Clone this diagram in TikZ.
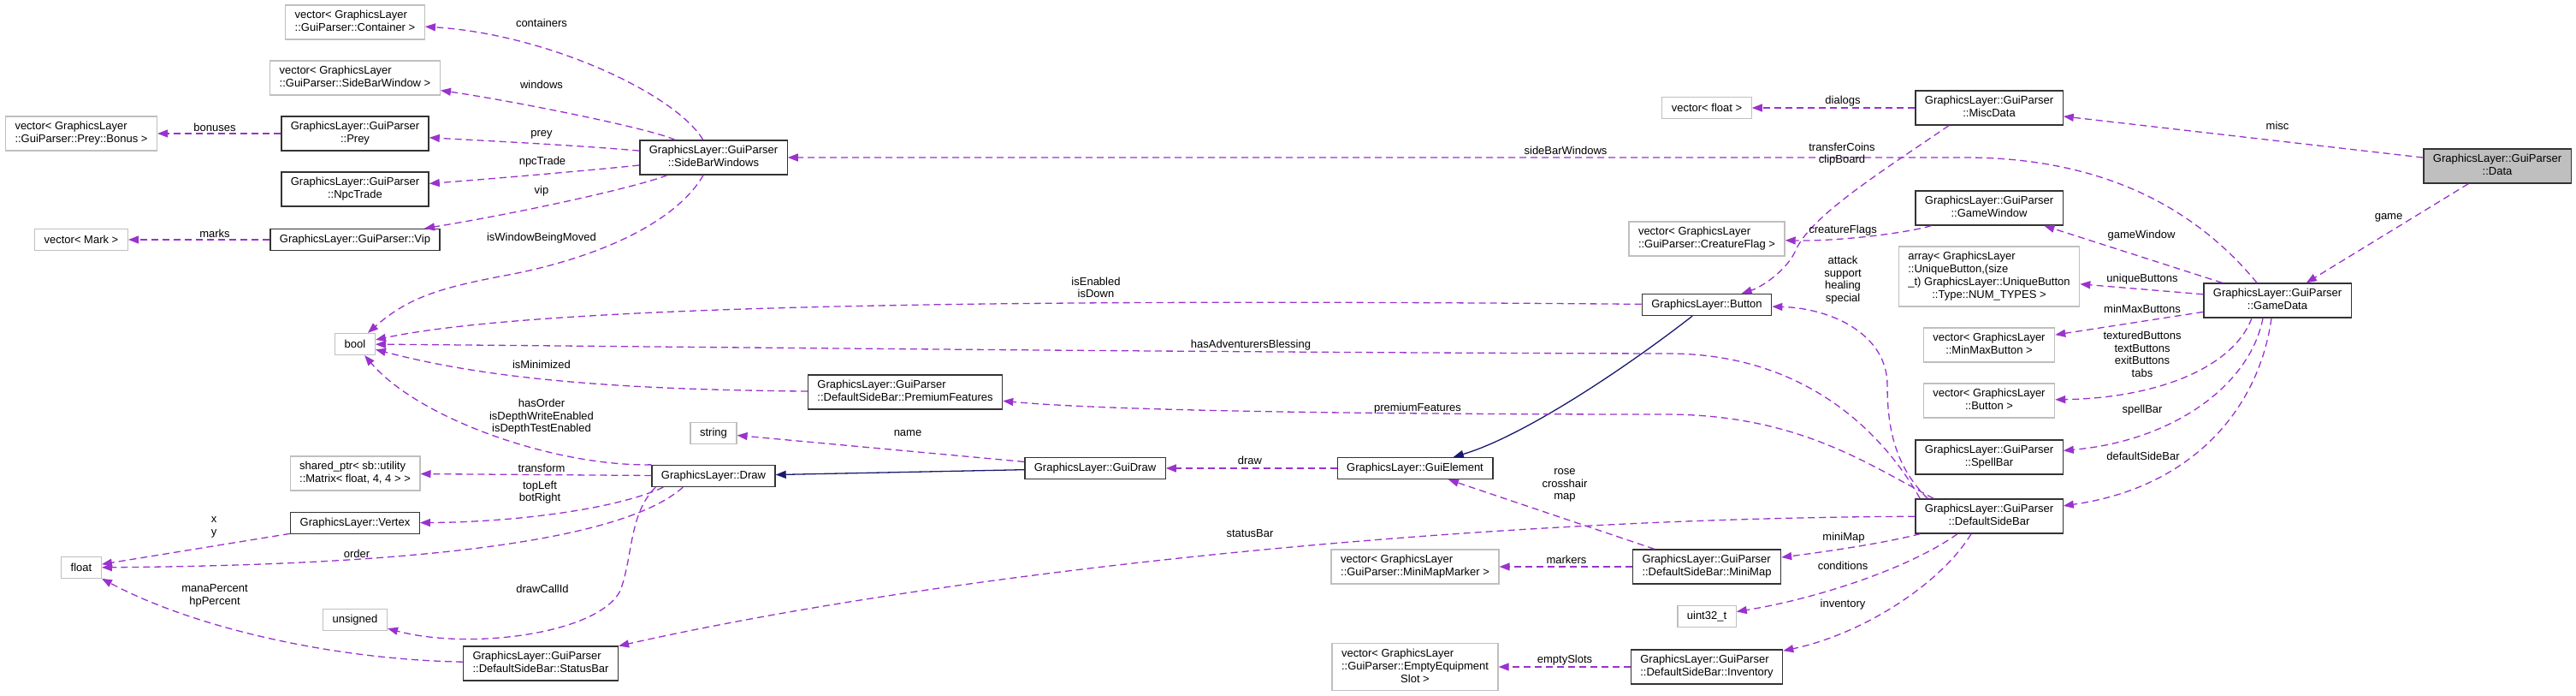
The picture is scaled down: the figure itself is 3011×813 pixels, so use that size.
\documentclass[tikz,border=0pt]{standalone}
\usepackage{fontspec}
\setmainfont{Liberation Sans}
\usetikzlibrary{arrows.meta}
\definecolor{edgePurple}{RGB}{154,50,205}
\definecolor{inhBlue}{RGB}{25,25,112}
\definecolor{extGray}{RGB}{191,191,191}
\colorlet{clsBorder}{black!80}
% first lines flush left, last line centred
\newcommand{\dxlab}[2]{\begin{tabular}{@{}l@{}}#1\\\multicolumn{1}{@{}c@{}}{#2}\end{tabular}}

\begin{document}
\begin{tikzpicture}[x=1pt, y=-1pt,
		every node/.style={font=\fontsize{13}{15}\selectfont},
		cls/.style={draw=clsBorder, line width=1.3pt, fill=white, inner xsep=11pt, inner ysep=5pt, minimum height=25pt},
		ext/.style={cls, draw=extGray},
		cur/.style={cls, fill=extGray},
		lbl/.style={align=center, font=\fontsize{13}{14.5}\selectfont, inner sep=0pt},
		dep/.style={draw=edgePurple, line width=1.3pt, dash pattern=on 8pt off 5pt, -{Triangle[length=12pt,width=9pt]}},
		inh/.style={draw=inhBlue, line width=1.3pt, -{Triangle[length=12pt,width=9pt]}}]
		\useasboundingbox (0,0) rectangle (3011,813);
		%%%%%%%%%%%%%
		\node[ext] (cont) at (415,26) {\dxlab{vector< GraphicsLayer}{::GuiParser::Container >}};
		\node[ext] (sbw) at (415,91) {\dxlab{vector< GraphicsLayer}{::GuiParser::SideBarWindow >}};
		\node[ext] (bonus) at (95,156) {\dxlab{vector< GraphicsLayer}{::GuiParser::Prey::Bonus >}};
		\node[cls] (prey) at (415,156) {\dxlab{GraphicsLayer::GuiParser}{::Prey}};
		\node[cls] (npc) at (415,221) {\dxlab{GraphicsLayer::GuiParser}{::NpcTrade}};
		\node[cls] (vip) at (415,280) {GraphicsLayer::GuiParser::Vip};
		\node[ext] (mark) at (95,280) {vector< Mark >};
		\node[cls] (windows) at (834,184) {\dxlab{GraphicsLayer::GuiParser}{::SideBarWindows}};
		\node[ext] (bool) at (415,402) {bool};
		\node[cls] (premium) at (1058,458) {\dxlab{GraphicsLayer::GuiParser}{::DefaultSideBar::PremiumFeatures}};
		\node[ext] (str) at (834,506) {string};
		\node[ext] (shptr) at (415,553) {\dxlab{shared\_ptr< sb::utility}{::Matrix< float, 4, 4 > >}};
		\node[cls] (draw) at (834,556) {GraphicsLayer::Draw};
		\node[cls] (vertex) at (415,611) {GraphicsLayer::Vertex};
		\node[ext] (flt) at (95,663) {float};
		\node[ext] (unsig) at (415,724) {unsigned};
		\node[cls] (status) at (632,775) {\dxlab{GraphicsLayer::GuiParser}{::DefaultSideBar::StatusBar}};
		\node[cls] (guidraw) at (1280,547) {GraphicsLayer::GuiDraw};
		\node[cls] (guielem) at (1654,547) {GraphicsLayer::GuiElement};
		\node[ext] (marker) at (1654,662) {\dxlab{vector< GraphicsLayer}{::GuiParser::MiniMapMarker >}};
		\node[ext] (slot) at (1654,779) {\dxlab{vector< GraphicsLayer\\::GuiParser::EmptyEquipment}{Slot >}};
		\node[ext] (vfloat) at (1995,126) {vector< float >};
		\node[ext] (flag) at (1995,279) {\dxlab{vector< GraphicsLayer}{::GuiParser::CreatureFlag >}};
		\node[cls] (button) at (1995,356) {GraphicsLayer::Button};
		\node[cls] (minimap) at (1995,662) {\dxlab{GraphicsLayer::GuiParser}{::DefaultSideBar::MiniMap}};
		\node[ext] (uint) at (1995,720) {uint32\_t};
		\node[cls] (inv) at (1995,779) {\dxlab{GraphicsLayer::GuiParser}{::DefaultSideBar::Inventory}};
		\node[cls] (misc) at (2325,126) {\dxlab{GraphicsLayer::GuiParser}{::MiscData}};
		\node[cls] (gamewin) at (2325,243) {\dxlab{GraphicsLayer::GuiParser}{::GameWindow}};
		\node[ext] (uniq) at (2325,323) {\dxlab{array< GraphicsLayer\\::UniqueButton,(size\\\_t) GraphicsLayer::UniqueButton}{::Type::NUM\_TYPES >}};
		\node[ext] (minmax) at (2325,403) {\dxlab{vector< GraphicsLayer}{::MinMaxButton >}};
		\node[ext] (vbutton) at (2325,468) {\dxlab{vector< GraphicsLayer}{::Button >}};
		\node[cls] (spell) at (2325,534) {\dxlab{GraphicsLayer::GuiParser}{::SpellBar}};
		\node[cls] (side) at (2325,603) {\dxlab{GraphicsLayer::GuiParser}{::DefaultSideBar}};
		\node[cls] (gamedata) at (2662,351) {\dxlab{GraphicsLayer::GuiParser}{::GameData}};
		\node[cur] (data) at (2919,194) {\dxlab{GraphicsLayer::GuiParser}{::Data}};
		%%%%%%%%%%%%%
		\draw [dep] (windows) .. controls (790,110) and (640,40) .. (cont);
		\draw [dep] (windows) .. controls (760,150) and (600,118) .. (sbw);
		\draw [dep] (windows) .. controls (680,170) and (560,164) .. (prey);
		\draw [dep] (windows) .. controls (680,200) and (560,210) .. (npc);
		\draw [dep] (windows) .. controls (740,220) and (600,250) .. (vip);
		\draw [dep] (prey) -- (bonus); \draw [dep] (vip) -- (mark);
		\draw [dep] (windows) .. controls (790,260) and (700,300) .. (600,320) .. controls (520,335) and (480,345) .. (bool);
		\draw [dep] (button) .. controls (1300,350) and (650,352) .. (bool);
		\draw [dep] ([xshift=6pt]side.north west) .. controls (2215,530) and (2130,413) .. (1950,413) .. controls (1400,412) and (700,404) .. (bool);
		\draw [dep] (premium) .. controls (700,455) and (560,440) .. (bool);
		\draw [dep] (draw.north west) .. controls (650,545) and (490,490) .. (bool);
		%%%%%%%%%%%%%
		\draw [dep] (draw) -- (shptr);
		\draw [dep] ([xshift=14pt]draw.south west) .. controls (720,595) and (600,610) .. (vertex);
		\draw [dep] ([xshift=37pt]draw.south west) .. controls (730,630) and (500,660) .. (flt);
		\draw [dep] ([xshift=5pt]draw.south west) .. controls (735,600) and (740,650) .. (725,690) .. controls (700,740) and (550,760) .. (unsig);
		\draw [dep] (vertex) -- (flt);
		\draw [dep] (status) .. controls (380,770) and (220,730) .. (flt);
		\draw [dep] (side) .. controls (1700,605) and (1100,670) .. (status);
		\draw [inh] (guidraw) -- (draw);
		\draw [dep] (guidraw) -- (str); \draw [dep] (guielem) -- (guidraw);
		\draw [inh] (button) .. controls (1900,430) and (1780,510) .. (guielem);
		\draw [dep] (minimap) -- (guielem);
		\draw [dep] (minimap) -- (marker); \draw [dep] (inv) -- (slot);
		%%%%%%%%%%%%%
		\draw [dep] (side) .. controls (2200,635) and (2130,645) .. (minimap);
		\draw [dep] ([xshift=-37pt]side.south) .. controls (2230,665) and (2120,700) .. (uint);
		\draw [dep] ([xshift=-21pt]side.south) .. controls (2270,680) and (2180,740) .. (inv);
		\draw [dep] ([xshift=15pt]side.north west) .. controls (2215,545) and (2206,500) .. (2206,450) .. controls (2206,390) and (2140,360) .. (button);
		\draw [dep] ([xshift=22pt]side.north west) .. controls (2180,540) and (2100,485) .. (1950,484) .. controls (1600,484) and (1300,480) .. (premium);
		\draw [dep] ([xshift=-24pt]gamedata.north) .. controls (2580,260) and (2480,185) .. (2300,184) -- (windows);
		\draw [dep] ([xshift=-47pt]misc.south) .. controls (2200,200) and (2120,250) .. (2100,290) .. controls (2090,315) and (2060,335) .. (button);
		\draw [dep] (misc) -- (vfloat);
		\draw [dep] (data) -- (misc); \draw [dep] (data) -- (gamedata);
		\draw [dep] (gamedata) -- (gamewin);
		\draw [dep] (gamewin) .. controls (2230,272) and (2150,282) .. (flag);
		\draw [dep] (gamedata) -- (uniq); \draw [dep] (gamedata) -- (minmax);
		\draw [dep] ([xshift=-30pt]gamedata.south) .. controls (2610,430) and (2520,465) .. (vbutton);
		\draw [dep] ([xshift=-17pt]gamedata.south) .. controls (2630,450) and (2540,515) .. (spell);
		\draw [dep] ([xshift=-7pt]gamedata.south) .. controls (2640,480) and (2560,570) .. (side);
		%%%%%%%%%%%%%
		\node[lbl] (lCont) at (633,27) {containers};
		\node[lbl] (lWin) at (633,99) {windows};
		\node[lbl] (lBonus) at (251,149) {bonuses};
		\node[lbl] (lPrey) at (633,157) {prey};
		\node[lbl] (lNpc) at (634,189) {npcTrade};
		\node[lbl] (lVip) at (633,223) {vip};
		\node[lbl] (lMarks) at (251,273) {marks};
		\node[lbl] (lMoved) at (633,278) {isWindowBeingMoved};
		\node[lbl] (lMin) at (633,426) {isMinimized};
		\node[lbl] (lOrderFlags) at (633,487) {hasOrder\\isDepthWriteEnabled\\isDepthTestEnabled};
		\node[lbl] (lTransform) at (633,547) {transform};
		\node[lbl] (lCorners) at (631,575) {topLeft\\botRight};
		\node[lbl] (lXY) at (250,616) {x\\y};
		\node[lbl] (lOrder) at (417,647) {order};
		\node[lbl] (lPercent) at (251,696) {manaPercent\\hpPercent};
		\node[lbl] (lCallId) at (634,688) {drawCallId};
		\node[lbl] (lName) at (1061,506) {name};
		\node[lbl] (lDraw) at (1461,538) {draw};
		\node[lbl] (lEnabled) at (1281,336) {isEnabled\\isDown};
		\node[lbl] (lBlessing) at (1462,403) {hasAdventurersBlessing};
		\node[lbl] (lPremium) at (1657,477) {premiumFeatures};
		\node[lbl] (lStatus) at (1461,623) {statusBar};
		\node[lbl] (lRose) at (1829,567) {rose\\crosshair\\map};
		\node[lbl] (lMarkers) at (1831,654) {markers};
		\node[lbl] (lSlots) at (1829,771) {emptySlots};
		\node[lbl] (lMiniMap) at (2155,628) {miniMap};
		\node[lbl] (lCond) at (2154,661) {conditions};
		\node[lbl] (lInv) at (2154,706) {inventory};
		\node[lbl] (lSpells) at (2154,327) {attack\\support\\healing\\special};
		\node[lbl] (lSideBarWin) at (1830,176) {sideBarWindows};
		\node[lbl] (lCoins) at (2153,180) {transferCoins\\clipBoard};
		\node[lbl] (lFlags) at (2154,269) {creatureFlags};
		\node[lbl] (lDialogs) at (2154,118) {dialogs};
		\node[lbl] (lMisc) at (2662,147) {misc};
		\node[lbl] (lGame) at (2792,254) {game};
		\node[lbl] (lGameWin) at (2503,275) {gameWindow};
		\node[lbl] (lUnique) at (2504,326) {uniqueButtons};
		\node[lbl] (lMinMax) at (2504,361) {minMaxButtons};
		\node[lbl] (lButtons) at (2504,414) {texturedButtons\\textButtons\\exitButtons\\tabs};
		\node[lbl] (lSpellBar) at (2504,479) {spellBar};
		\node[lbl] (lSideBar) at (2505,533) {defaultSideBar};
\end{tikzpicture}
\end{document}
